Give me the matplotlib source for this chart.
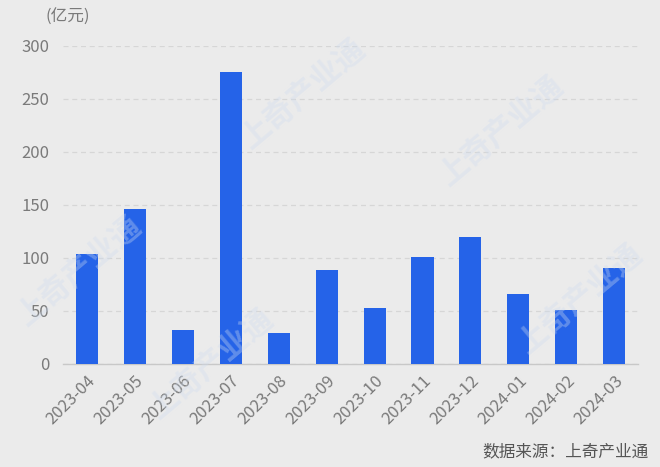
import matplotlib
matplotlib.use("Agg")
import matplotlib.pyplot as plt

plt.rcParams["font.family"] = ["Noto Sans CJK SC", "DejaVu Sans"]
plt.rcParams["axes.unicode_minus"] = False

# 数据
months = ["2023-04", "2023-05", "2023-06", "2023-07", "2023-08", "2023-09",
          "2023-10", "2023-11", "2023-12", "2024-01", "2024-02", "2024-03"]
values = [104, 146, 32, 275, 29, 89, 53, 101, 120, 66, 51, 91]
yticks = [0, 50, 100, 150, 200, 250, 300]

BG = "#ebebeb"
BAR = "#2563e8"
TXT = "#7a7a7a"

fig = plt.figure(figsize=(6.6, 4.67), dpi=100, facecolor=BG)
ax = fig.add_axes([0.0955, 0.2206, 0.8715, 0.6809], facecolor=BG)

# 水印（淡色，保持在画布内）
for x, y in [(0.46, 0.80), (0.76, 0.72), (0.32, 0.22), (0.88, 0.36), (0.12, 0.42)]:
    fig.text(x, y, "上奇产业通", rotation=40, fontsize=22, color="#cfdcef",
             alpha=0.35, ha="center", va="center", fontweight="bold", zorder=0)

x = range(len(months))
ax.bar(x, values, width=0.46, color=BAR, zorder=3)

ax.set_xlim(-0.5, len(months) - 0.5)
ax.set_ylim(0, 300)
ax.set_yticks(yticks)
ax.set_xticks(list(x))
ax.set_xticklabels(months, rotation=45, ha="right", rotation_mode="anchor")

ax.grid(axis="y", linestyle=(0, (4, 3)), color="#d6d6d6", linewidth=0.9, zorder=1)
for s in ["top", "right", "left"]:
    ax.spines[s].set_visible(False)
ax.spines["bottom"].set_color("#c8c8c8")
ax.spines["bottom"].set_linewidth(1.0)
ax.tick_params(axis="both", length=0, labelsize=12, labelcolor=TXT)
ax.tick_params(axis="y", pad=10)
ax.tick_params(axis="x", pad=6)

fig.text(0.103, 0.963, "(亿元)", fontsize=12, color=TXT, ha="center", va="center")
fig.text(0.982, 0.032, "数据来源：上奇产业通", fontsize=12, color="#555555", ha="right", va="center")

fig.savefig("out.png", dpi=100, facecolor=BG)
